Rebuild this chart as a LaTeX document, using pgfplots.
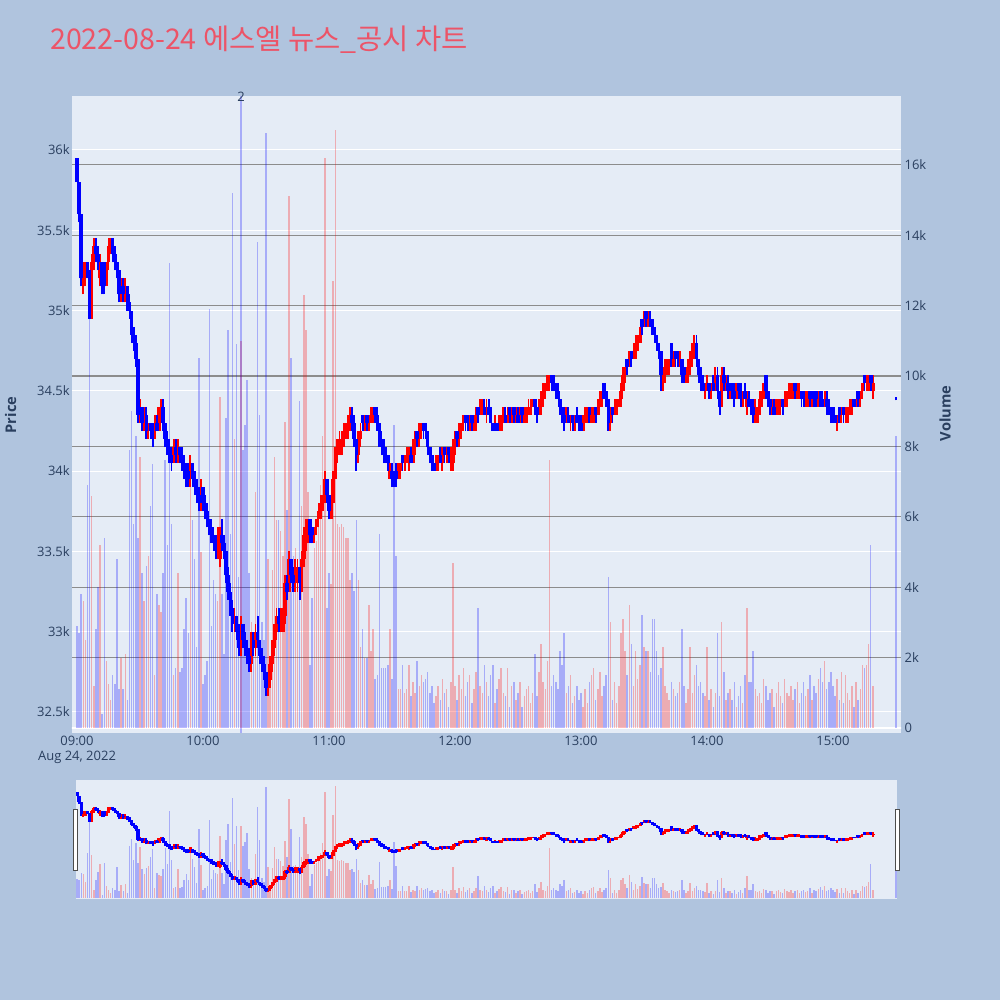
\documentclass[border=0pt]{standalone}
\usepackage{pgfplots}
\pgfplotsset{compat=1.18}
\usepackage{pgfplotstable}
\usepackage{fontspec}
\setmainfont{Open Sans}
\newfontfamily\kr{Noto Sans CJK KR}
\definecolor{pagebg}{RGB}{176,196,222}
\definecolor{plotbg}{RGB}{229,236,246}
\definecolor{tickc}{RGB}{42,63,95}
\definecolor{titlec}{RGB}{236,84,104}
\definecolor{vgrid}{RGB}{140,140,140}
\definecolor{upc}{RGB}{255,0,0}
\definecolor{dnc}{RGB}{0,0,255}

\pgfplotstableread{
m o h l c v
0 35950 35950 35800 35800 2900
1 35800 35800 35550 35600 2700
2 35600 35600 35150 35200 3800
3 35200 35300 35100 35300 3600
4 35200 35300 35150 35250 2500
5 35300 35300 35200 35200 6900
6 35200 35250 34950 34950 11700
7 34950 35350 34950 35300 6600
8 35300 35450 35250 35400 1200
9 35400 35450 35300 35350 2800
10 35350 35400 35250 35300 4000
11 35200 35350 35150 35300 5200
12 35300 35300 35100 35150 400
13 35300 35300 35100 35150 5400
14 35150 35300 35150 35300 1900
15 35300 35450 35250 35400 1250
16 35400 35450 35350 35450 800
17 35450 35450 35300 35350 1500
18 35350 35400 35250 35300 1250
19 35300 35300 35200 35250 4800
20 35250 35250 35050 35100 1100
21 35100 35200 35050 35150 2000
22 35150 35200 35050 35100 1100
23 35100 35200 35050 35150 2100
24 35150 35150 35000 35050 800
25 35050 35100 34950 35000 7900
26 35000 35000 34800 34850 9000
27 34850 34900 34750 34800 5800
28 34800 34850 34650 34700 8300
29 34700 34700 34300 34350 5400
30 34350 34450 34300 34400 7700
31 34400 34400 34250 34300 4400
32 34300 34400 34250 34350 3600
33 34350 34400 34200 34250 4600
34 34250 34300 34200 34300 4900
35 34300 34300 34200 34250 6300
36 34250 34300 34150 34200 7500
37 34200 34350 34200 34300 1500
38 34300 34350 34250 34250 3800
39 34250 34400 34250 34400 3500
40 34350 34450 34300 34400 3300
41 34400 34450 34250 34300 4400
42 34300 34300 34150 34200 7600
43 34200 34250 34100 34150 5200
44 34150 34200 34050 34100 13200
45 34100 34150 34000 34050 5800
46 34050 34200 34050 34150 1500
47 34150 34200 34050 34100 1700
48 34100 34200 34050 34150 4400
49 34150 34150 34050 34100 1600
50 34100 34150 34000 34050 1700
51 34050 34100 33950 34000 2800
52 34000 34050 33900 33950 3700
53 34000 34050 33900 33950 2700
54 33950 34100 33900 34050 7700
55 34050 34050 33900 33950 5900
56 33950 34000 33850 33900 4800
57 33900 33950 33800 33850 2300
58 33850 33900 33750 33800 10500
59 33800 33950 33750 33900 5000
60 33900 33900 33750 33800 1250
61 33800 33850 33700 33750 1500
62 33750 33800 33650 33700 1900
63 33700 33700 33600 33650 11900
64 33650 33700 33550 33600 2900
65 33600 33650 33500 33550 4200
66 33550 33600 33450 33500 3800
67 33500 33650 33450 33600 3600
68 33450 33650 33400 33600 9400
69 33600 33700 33500 33550 3800
70 33550 33600 33450 33500 2100
71 33500 33500 33300 33350 8800
72 33350 33400 33200 33250 11300
73 33250 33300 33100 33150 5500
74 33150 33200 33000 33050 15200
75 33050 33150 33000 33100 8200
76 33100 33100 32950 33000 10900
77 33000 33050 32850 32900 4300
78 32900 33100 32850 33050 11000
79 33050 33050 32900 32950 7900
80 32950 33000 32850 32900 8600
81 32900 32950 32800 32850 9900
82 32850 32900 32750 32800 4400
83 32800 33000 32750 32950 3000
84 32950 33000 32850 32900 2500
85 32900 33050 32850 33000 6700
86 33000 33100 32900 32950 13800
87 32950 32950 32800 32850 8900
88 32850 32900 32750 32800 3000
89 32800 32850 32700 32750 2500
90 32750 32750 32600 32650 16900
91 32650 32750 32600 32700 4800
92 32700 32850 32650 32800 2000
93 32800 32950 32750 32900 4500
94 32900 33050 32850 33000 7700
95 33000 33150 32950 33100 5900
96 33100 33150 33000 33050 5900
97 33050 33150 33000 33100 5600
98 33000 33150 33000 33100 4900
99 33100 33350 33050 33300 8700
100 33300 33350 33200 33250 6200
101 33250 33500 33250 33450 15100
102 33450 33450 33300 33350 10500
103 33350 33400 33250 33300 4900
104 33300 33450 33250 33400 5100
105 33300 33450 33250 33400 4600
106 33400 33400 33200 33300 9300
107 33300 33500 33250 33450 6300
108 33450 33650 33400 33600 12300
109 33600 33700 33500 33650 11300
110 33650 33700 33550 33700 6700
111 33700 33700 33550 33600 1800
112 33650 33650 33550 33600 3700
113 33600 33650 33550 33650 5100
114 33650 33700 33600 33700 5300
115 33700 33800 33650 33750 6300
116 33750 33850 33700 33800 6900
117 33800 33850 33750 33850 8300
118 33850 34000 33800 33950 16200
119 33950 33950 33800 33850 3400
120 33850 33850 33700 33750 4400
121 33700 33850 33700 33800 4100
122 33800 34000 33800 33950 12700
123 33950 34150 33950 34100 17000
124 34100 34200 34050 34150 5800
125 34150 34250 34100 34200 5700
126 34100 34250 34100 34200 5800
127 34200 34300 34150 34250 5700
128 34200 34300 34200 34250 5400
129 34250 34350 34200 34300 5400
130 34300 34400 34250 34350 4200
131 34350 34400 34250 34300 4400
132 34300 34350 34150 34200 3900
133 34200 34200 34000 34100 5900
134 34100 34250 34050 34200 4200
135 34200 34300 34150 34250 2300
136 34350 34350 34250 34300 2800
137 34250 34350 34250 34350 2000
138 34350 34350 34250 34300 2000
139 34300 34350 34250 34350 3500
140 34300 34400 34300 34350 2200
141 34350 34400 34300 34400 2800
142 34400 34400 34300 34350 1400
143 34350 34400 34250 34300 1500
144 34300 34300 34150 34200 5500
145 34200 34250 34100 34150 1700
146 34150 34200 34050 34100 1700
147 34150 34150 34050 34100 1700
148 34100 34100 34000 34050 1800
149 33950 34050 33950 34000 2800
150 34000 34050 33900 33950 1400
151 34000 34000 33900 33950 8600
152 34000 34050 33900 33950 4900
153 33950 34050 33950 34000 1100
154 34000 34050 33950 34050 1100
155 34100 34100 34000 34050 1800
156 34050 34100 34000 34100 1000
157 34050 34150 34050 34100 1100
158 34050 34150 34000 34100 1800
159 34100 34150 34050 34050 900
160 34050 34200 34050 34150 1300
161 34150 34250 34100 34200 1000
162 34250 34250 34150 34200 1900
163 34200 34300 34150 34250 1200
164 34250 34300 34200 34300 1500
165 34300 34300 34200 34250 1300
166 34300 34300 34200 34250 1400
167 34250 34250 34100 34150 1600
168 34150 34150 34050 34100 1000
169 34100 34100 34000 34050 1200
170 34050 34050 34000 34000 700
171 34000 34100 34000 34050 900
172 34050 34100 34000 34100 1200
173 34100 34150 34050 34050 800
174 34050 34150 34000 34100 1400
175 34150 34150 34050 34100 1000
176 34100 34150 34050 34150 1100
177 34150 34150 34050 34100 600
178 34050 34150 34000 34100 1300
179 34050 34200 34000 34150 4700
180 34150 34250 34100 34200 1200
181 34250 34250 34150 34200 800
182 34200 34300 34150 34250 1500
183 34250 34300 34200 34300 1100
184 34300 34350 34250 34350 1700
185 34350 34350 34250 34300 900
186 34350 34350 34250 34300 1300
187 34300 34350 34250 34350 1500
188 34350 34350 34250 34300 700
189 34250 34350 34250 34300 1100
190 34300 34400 34250 34350 1600
191 34400 34400 34300 34350 3400
192 34350 34450 34350 34400 1200
193 34350 34450 34350 34400 1000
194 34400 34450 34350 34350 1800
195 34350 34450 34300 34400 1300
196 34400 34450 34350 34350 900
197 34350 34400 34300 34300 1500
198 34300 34300 34250 34250 1800
199 34250 34350 34250 34300 700
200 34300 34300 34250 34250 1100
201 34250 34350 34250 34300 1400
202 34250 34350 34250 34300 1700
203 34300 34400 34300 34350 1000
204 34350 34400 34300 34300 900
205 34300 34400 34300 34350 1700
206 34400 34400 34300 34350 600
207 34350 34400 34300 34400 1200
208 34400 34400 34300 34350 1300
209 34300 34400 34300 34350 800
210 34350 34400 34300 34300 1000
211 34300 34400 34300 34400 1300
212 34400 34400 34300 34350 600
213 34350 34400 34300 34400 900
214 34300 34400 34300 34350 1100
215 34350 34450 34350 34400 1200
216 34350 34450 34350 34400 700
217 34400 34450 34400 34450 1000
218 34450 34450 34350 34400 2100
219 34400 34400 34300 34350 900
220 34350 34450 34350 34400 1600
221 34400 34500 34350 34450 2400
222 34450 34550 34400 34500 1300
223 34500 34550 34450 34550 1100
224 34500 34600 34500 34550 1900
225 34550 34600 34500 34600 7600
226 34600 34600 34500 34550 1200
227 34600 34600 34500 34550 1500
228 34550 34550 34450 34500 1300
229 34500 34550 34450 34450 1100
230 34450 34450 34350 34400 2200
231 34400 34400 34300 34350 1800
232 34350 34400 34250 34300 2700
233 34300 34400 34300 34350 1000
234 34350 34400 34300 34300 1200
235 34300 34350 34250 34350 1500
236 34350 34350 34250 34300 700
237 34300 34350 34250 34350 900
238 34350 34400 34300 34300 1200
239 34350 34350 34250 34300 800
240 34300 34350 34250 34250 1000
241 34250 34350 34250 34350 600
242 34300 34400 34300 34350 1100
243 34350 34400 34300 34400 700
244 34400 34400 34300 34350 1300
245 34300 34400 34300 34350 1500
246 34350 34400 34300 34400 1700
247 34400 34400 34300 34350 800
248 34350 34450 34350 34400 1100
249 34400 34500 34400 34450 1600
250 34450 34500 34400 34500 900
251 34550 34550 34450 34450 1200
252 34500 34500 34400 34450 1500
253 34450 34450 34250 34300 4300
254 34300 34400 34250 34350 3000
255 34400 34400 34300 34350 800
256 34350 34450 34350 34400 1300
257 34350 34450 34350 34400 700
258 34400 34450 34400 34450 1200
259 34450 34550 34400 34500 2700
260 34500 34650 34500 34600 3100
261 34600 34650 34550 34650 2200
262 34700 34700 34600 34650 1500
263 34650 34750 34650 34700 3500
264 34750 34750 34650 34700 2400
265 34700 34800 34700 34750 1200
266 34750 34850 34700 34800 2200
267 34750 34850 34750 34800 1400
268 34800 34900 34800 34850 1800
269 34950 34950 34850 34900 3200
270 34900 35000 34900 34950 2300
271 35000 35000 34900 34950 2200
272 34900 35000 34900 34950 2200
273 34950 35000 34900 34900 1600
274 34950 34950 34850 34900 3100
275 34900 34900 34800 34850 3100
276 34850 34850 34750 34800 2200
277 34800 34800 34700 34750 1500
278 34750 34750 34500 34600 1700
279 34550 34650 34500 34600 2300
280 34600 34700 34550 34650 1200
281 34600 34700 34600 34650 1000
282 34650 34700 34600 34700 800
283 34800 34800 34650 34700 1300
284 34650 34750 34650 34700 1100
285 34750 34750 34650 34700 900
286 34750 34750 34650 34700 1000
287 34650 34750 34650 34700 1300
288 34700 34700 34550 34600 2800
289 34650 34650 34550 34600 1200
290 34550 34650 34550 34600 700
291 34600 34700 34550 34650 1100
292 34650 34750 34600 34700 2300
293 34700 34800 34650 34750 1000
294 34750 34850 34700 34800 1500
295 34800 34850 34650 34700 1800
296 34700 34700 34550 34600 1200
297 34600 34650 34500 34550 1300
298 34550 34600 34500 34500 1000
299 34500 34550 34450 34550 900
300 34500 34600 34500 34550 2300
301 34550 34550 34450 34500 800
302 34500 34550 34450 34550 1100
303 34550 34600 34500 34500 600
304 34550 34650 34500 34600 1000
305 34600 34650 34450 34500 2700
306 34500 34500 34350 34400 900
307 34400 34650 34400 34600 3000
308 34600 34650 34500 34550 1600
309 34500 34600 34500 34550 800
310 34550 34600 34450 34500 1000
311 34500 34550 34450 34550 1100
312 34550 34550 34450 34500 800
313 34500 34550 34400 34450 1300
314 34450 34550 34450 34500 600
315 34550 34550 34450 34500 900
316 34500 34550 34400 34450 1200
317 34450 34500 34400 34500 700
318 34500 34550 34450 34450 1500
319 34400 34500 34350 34450 3400
320 34450 34500 34400 34400 1300
321 34450 34450 34350 34400 1300
322 34400 34450 34300 34350 2200
323 34350 34450 34300 34400 1100
324 34300 34400 34300 34350 900
325 34350 34500 34350 34450 1000
326 34450 34500 34400 34500 700
327 34500 34550 34450 34550 1400
328 34600 34600 34450 34500 1200
329 34500 34500 34400 34450 800
330 34450 34450 34350 34400 1000
331 34350 34450 34350 34400 1100
332 34400 34450 34350 34350 600
333 34350 34450 34350 34400 1000
334 34350 34450 34350 34400 1300
335 34400 34450 34350 34450 900
336 34450 34450 34350 34400 700
337 34400 34500 34400 34450 1400
338 34450 34500 34400 34500 1000
339 34450 34550 34450 34500 900
340 34500 34550 34450 34550 1200
341 34500 34550 34450 34550 800
342 34550 34550 34450 34500 1100
343 34500 34550 34450 34550 1300
344 34450 34550 34450 34500 700
345 34500 34500 34400 34450 1000
346 34500 34500 34400 34450 1300
347 34400 34500 34400 34450 900
348 34450 34500 34400 34500 1100
349 34500 34500 34400 34450 1500
350 34450 34500 34400 34500 800
351 34500 34500 34400 34450 1200
352 34500 34500 34400 34450 1000
353 34450 34500 34400 34500 1400
354 34500 34500 34400 34450 1700
355 34450 34500 34400 34400 1300
356 34400 34500 34400 34450 1900
357 34450 34500 34350 34400 1100
358 34400 34450 34350 34350 1300
359 34400 34400 34300 34350 1600
360 34400 34400 34300 34350 1200
361 34350 34350 34300 34300 900
362 34300 34350 34250 34350 1400
363 34400 34400 34300 34350 800
364 34350 34400 34300 34400 1600
365 34400 34400 34300 34350 700
366 34350 34400 34300 34400 1500
367 34300 34400 34300 34350 1000
368 34350 34450 34350 34400 800
369 34400 34450 34350 34450 1200
370 34450 34450 34400 34400 600
371 34400 34450 34400 34450 1300
372 34500 34500 34400 34450 800
373 34450 34500 34400 34500 1100
374 34500 34550 34450 34550 1800
375 34600 34600 34500 34550 1700
376 34550 34600 34500 34600 1800
377 34550 34600 34500 34600 2400
378 34600 34600 34500 34550 5200
379 34500 34600 34450 34550 1200
390 34450 34460 34440 34450 8300
}\data

\pgfplotsset{
  upsel/.style={restrict expr to domain={\thisrow{c}-\thisrow{o}}{1:100000}},
  dnsel/.style={restrict expr to domain={\thisrow{c}-\thisrow{o}}{-100000:0}},
  ebar/.style 2 args={draw=none, no markers, forget plot,
    error bars/.cd, y dir=plus, y explicit, error mark=none,
    error bar style={draw=#1, line width=#2, solid}},
  vbar/.style={ycomb, no markers, forget plot, draw=#1, draw opacity=0.27, line width=1.1pt},
  base/.style={scale only axis, anchor=south west,
    scaled x ticks=false, scaled y ticks=false,
    axis line style={draw=none}, major tick length=0pt,
    tick label style={text=tickc, font=\fontsize{9.75pt}{11pt}\selectfont}},
}

\begin{document}
\begin{tikzpicture}
\fill[pagebg] (0,0) rectangle (750pt,750pt);
\useasboundingbox (0,0) rectangle (750pt,750pt);

% ---------- main price axis: background, white grid, labels ----------
\begin{axis}[base, at={(54pt,200.25pt)}, width=621.75pt, height=477.75pt,
  xmin=-2.38, xmax=392.4, ymin=32369, ymax=36336,
  axis background/.style={fill=plotbg},
  xtick={0,60,120,180,240,300,360},
  xticklabels={{09:00\\Aug 24, 2022},10:00,11:00,12:00,13:00,14:00,15:00},
  xticklabel style={align=center, inner sep=2pt},
  ytick={32500,33000,33500,34000,34500,35000,35500,36000},
  yticklabels={32.5k,33k,33.5k,34k,34.5k,35k,35.5k,36k},
  yticklabel style={inner sep=1.5pt},
  ymajorgrids, major grid style={draw=white, line width=0.75pt}]
\end{axis}

% ---------- volume axis ----------
\begin{axis}[base, at={(54pt,200.25pt)}, width=621.75pt, height=477.75pt,
  xmin=-2.38, xmax=392.4, ymin=-142, ymax=17955,
  xtick=\empty,
  ytick={0,2000,4000,6000,8000,10000,12000,14000,16000},
  yticklabels={0,2k,4k,6k,8k,10k,12k,14k,16k},
  yticklabel pos=right, yticklabel style={inner sep=2.5pt},
  ymajorgrids, major grid style={draw=vgrid, line width=0.8pt}]
\draw[white, line width=1.2pt] (axis cs:-10,0) -- (axis cs:400,0);
\addplot[vbar=upc, upsel] table[x=m, y=v] {\data};
\addplot[vbar=dnc, dnsel] table[x=m, y=v] {\data};
\addplot[forget plot, no markers, draw=dnc, draw opacity=0.27, line width=1.1pt] coordinates {(78,-142) (78,17955)};
\end{axis}

% ---------- candles ----------
\begin{axis}[base, hide axis, at={(54pt,200.25pt)}, width=621.75pt, height=477.75pt,
  xmin=-2.38, xmax=392.4, ymin=32369, ymax=36336]
\addplot[upsel, ebar={upc}{1.4pt}] table[x=m, y=l, y error expr=\thisrow{h}-\thisrow{l}] {\data};
\addplot[upsel, ebar={upc}{2.6pt}] table[x=m, y=o, y error expr=\thisrow{c}-\thisrow{o}] {\data};
\addplot[dnsel, ebar={dnc}{1.4pt}] table[x=m, y=l, y error expr=\thisrow{h}-\thisrow{l}] {\data};
\addplot[dnsel, ebar={dnc}{2.6pt}] table[x=m, y=c, y error expr=\thisrow{o}-\thisrow{c}] {\data};
\end{axis}

% ---------- range slider ----------
\begin{axis}[base, at={(57pt,75.75pt)}, width=615.75pt, height=89.25pt,
  xmin=-0.5, xmax=390.5, ymin=-142, ymax=17955,
  axis background/.style={fill=plotbg}, xtick=\empty, ytick=\empty]
\addplot[vbar=upc, upsel] table[x=m, y=v] {\data};
\addplot[vbar=dnc, dnsel] table[x=m, y=v] {\data};
\end{axis}
\begin{axis}[base, hide axis, at={(57pt,75.75pt)}, width=615.75pt, height=89.25pt,
  xmin=-0.5, xmax=390.5, ymin=32369, ymax=36336]
\addplot[upsel, ebar={upc}{1.6pt}] table[x=m, y=l, y error expr=\thisrow{h}-\thisrow{l}] {\data};
\addplot[upsel, ebar={upc}{2.6pt}] table[x=m, y=o, y error expr=\thisrow{c}-\thisrow{o}] {\data};
\addplot[dnsel, ebar={dnc}{1.6pt}] table[x=m, y=l, y error expr=\thisrow{h}-\thisrow{l}] {\data};
\addplot[dnsel, ebar={dnc}{2.6pt}] table[x=m, y=c, y error expr=\thisrow{o}-\thisrow{c}] {\data};
\end{axis}
\draw[fill=white, draw=black!70, line width=0.75pt] (55pt,96.75pt) rectangle (58.3pt,142.5pt);
\draw[fill=white, draw=black!70, line width=0.75pt] (671.5pt,96.75pt) rectangle (674.8pt,142.5pt);

% ---------- titles ----------
\node[text=tickc, font=\fontsize{9.75pt}{11pt}\selectfont, anchor=center, inner sep=0pt] at (180.75pt,677.5pt) {2};
\node[anchor=base west, inner sep=0pt, text=titlec, font=\kr\fontsize{21.4pt}{25pt}\selectfont] at (37.5pt,712.5pt) {2022-08-24 에스엘 뉴스\_공시 차트};
\node[rotate=90, text=tickc, font=\bfseries\fontsize{11pt}{13pt}\selectfont] at (8pt,438.75pt) {Price};
\node[rotate=90, text=tickc, font=\bfseries\fontsize{11pt}{13pt}\selectfont] at (708.75pt,440pt) {Volume};
\end{tikzpicture}
\end{document}
